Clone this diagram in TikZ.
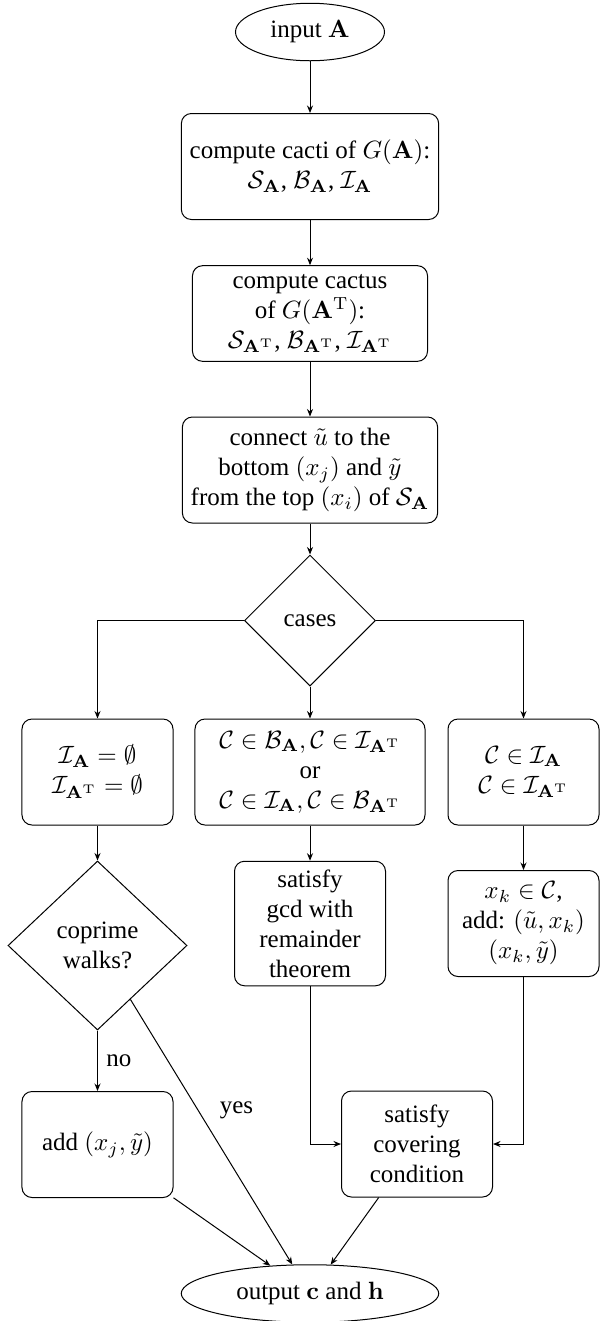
\documentclass[tikz,border=0pt]{standalone}
\usepackage[no-math]{fontspec}
\setmainfont{Liberation Serif}
\usepackage{tikz}
\usetikzlibrary{arrows.meta,shapes.geometric}
\newcommand{\bA}{\mathbf{A}}
\newcommand{\bAT}{\mathbf{A}^{\mathrm{T}}}

\begin{document}
\begin{tikzpicture}[x=0.4pt,y=0.4pt,
  box/.style={draw, rounded corners, align=center, minimum width=60.4pt, minimum height=42.4pt},
  term/.style={draw, ellipse, align=center, minimum height=23pt},
  dec/.style={draw, diamond, align=center},
  >={Stealth[length=3pt,width=2.4pt]}]
  \useasboundingbox (0,0) rectangle (605,-1321);
  \node[term, minimum width=59.6pt] (in) at (310,-32) {input $\bA$};
  \node[box, minimum width=94pt] (cacti) at (310,-166.5) {compute cacti of $G(\bA)$:\\ $\mathcal{S}_{\bA}$, $\mathcal{B}_{\bA}$, $\mathcal{I}_{\bA}$};
  \node[box, minimum width=94pt, minimum height=0pt] (cactusT) at (310,-313.5) {compute cactus\\ of $G(\bAT)$:\\ $\mathcal{S}_{\bAT}$, $\mathcal{B}_{\bAT}$, $\mathcal{I}_{\bAT}$};
  \node[box] (connect) at (310,-470) {connect $\tilde{u}$ to the\\ bottom $(x_j)$ and $\tilde{y}$\\ from the top $(x_i)$ of $\mathcal{S}_{\bA}$};
  \node[dec, minimum width=52.4pt, minimum height=52.4pt] (cases) at (310,-620.5) {cases};
  \node[box] (empty) at (97.5,-772) {$\mathcal{I}_{\bA} = \emptyset$\\ $\mathcal{I}_{\bAT} = \emptyset$};
  \node[box, minimum width=92pt] (bi) at (310,-772) {$\mathcal{C} \in \mathcal{B}_{\bA}, \mathcal{C} \in \mathcal{I}_{\bAT}$\\ or\\ $\mathcal{C} \in \mathcal{I}_{\bA}, \mathcal{C} \in \mathcal{B}_{\bAT}$};
  \node[box] (ii) at (523.5,-772) {$\mathcal{C} \in \mathcal{I}_{\bA}$\\ $\mathcal{C} \in \mathcal{I}_{\bAT}$};
  \node[dec, minimum width=71.6pt, minimum height=67.6pt] (coprime) at (97.5,-945.5) {coprime\\ walks?};
  \node[box] (gcd) at (310,-923.5) {satisfy\\ gcd with\\ remainder\\ theorem};
  \node[box] (xk) at (523.5,-923.5) {$x_k \in \mathcal{C}$,\\ add: $(\tilde{u}, x_k)$\\ $(x_k, \tilde{y})$};
  \node[box] (add) at (97.5,-1144.5) {add $(x_j, \tilde{y})$};
  \node[box] (cover) at (417,-1144) {satisfy\\ covering\\ condition};
  \node[term, minimum width=103pt] (out) at (310,-1293.5) {output $\mathbf{c}$ and $\mathbf{h}$};

  \draw[->] (in) -- (cacti);
  \draw[->] (cacti) -- (cactusT);
  \draw[->] (cactusT) -- (connect);
  \draw[->] (connect) -- (cases);
  \draw[->] (cases) -| (empty);
  \draw[->] (cases) -- (bi);
  \draw[->] (cases) -| (ii);
  \draw[->] (empty) -- (coprime);
  \draw[->] (bi) -- (gcd);
  \draw[->] (ii) -- (xk);
  \draw[->] (coprime) -- node[right] {no} (add);
  \draw[->] (coprime) -- node[pos=0.42, right=5pt] {yes} (out);
  \draw[->] (gcd) |- (cover);
  \draw[->] (xk) |- (cover);
  \draw[->] (add) -- (out);
  \draw[->] (cover) -- (out);
\end{tikzpicture}
\end{document}
